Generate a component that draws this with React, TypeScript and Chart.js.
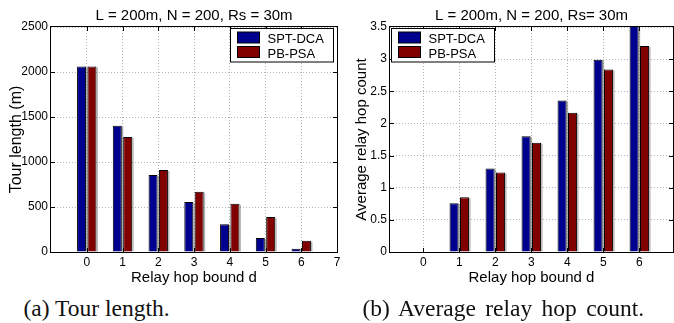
import React, { useEffect, useRef } from 'react';
import { Chart, registerables } from 'chart.js';

Chart.register(...registerables);

// ---------- data ----------
const categories = [0, 1, 2, 3, 4, 5, 6];
const seriesLabels = ['SPT-DCA', 'PB-PSA'];
const tourSptDca = [2062, 1403, 856, 556, 307, 156, 37];
const tourPbPsa = [2062, 1278, 911, 670, 537, 389, 126];
const hopSptDca = [0, 0.757, 1.297, 1.8, 2.356, 2.99, 3.6];
const hopPbPsa = [0, 0.85, 1.235, 1.7, 2.167, 2.84, 3.205];
const tourYTicks = [0, 500, 1000, 1500, 2000, 2500];
const hopYTicks = [0, 0.5, 1, 1.5, 2, 2.5, 3, 3.5];
const tourXTicks = [0, 1, 2, 3, 4, 5, 6, 7];
const hopXTicks = [0, 1, 2, 3, 4, 5, 6];
const chartTitles = ['L = 200m, N = 200, Rs = 30m', 'L = 200m, N = 200, Rs= 30m'];
const yTitles = ['Tour length (m)', 'Average relay hop count'];
const xTitle = 'Relay hop bound d';
const captions = ['(a) Tour length.', '(b) Average relay hop count.'];

const seriesColors = ['rgb(0,0,143)', 'rgb(128,0,0)'];
const SANS = "'Liberation Sans', Arial, Helvetica, sans-serif";
const SERIF = "'Liberation Serif', 'Times New Roman', serif";
const GRID = '#b4b4b4';

const decoPlugin = {
  id: 'matlabDeco',
  beforeDatasetsDraw(chart: any) {
    const ctx = chart.ctx;
    ctx.save();
    ctx.fillStyle = 'rgba(110,110,110,0.5)';
    chart.data.datasets.forEach((_ds: any, i: number) => {
      const meta = chart.getDatasetMeta(i);
      meta.data.forEach((bar: any) => {
        const p = bar.getProps(['x', 'y', 'base', 'width'], true);
        const top = Math.max(Math.min(p.y, p.base), chart.chartArea.top);
        const h = Math.abs(p.base - top);
        if (h < 1) return;
        ctx.fillRect(p.x + p.width / 2, top + 1, 1.5, h - 1);
      });
    });
    ctx.restore();
  },
  afterDatasetsDraw(chart: any) {
    const { ctx, chartArea } = chart;
    const { left, right, top, bottom } = chartArea;
    const xs = chart.scales.x;
    const ys = chart.scales.y;
    ctx.save();
    ctx.strokeStyle = '#000';
    ctx.lineWidth = 1;
    ctx.beginPath();
    const tl = 4;
    xs.ticks.forEach((t: any) => {
      const px = Math.round(xs.getPixelForValue(t.value)) + 0.5;
      if (px <= left + 1 || px >= right - 1) return;
      ctx.moveTo(px, bottom);
      ctx.lineTo(px, bottom - tl);
      ctx.moveTo(px, top);
      ctx.lineTo(px, top + tl);
    });
    ys.ticks.forEach((t: any) => {
      const py = Math.round(ys.getPixelForValue(t.value)) + 0.5;
      if (py <= top + 1 || py >= bottom - 1) return;
      ctx.moveTo(left, py);
      ctx.lineTo(left + tl, py);
      ctx.moveTo(right, py);
      ctx.lineTo(right - tl, py);
    });
    ctx.stroke();
    ctx.strokeRect(Math.round(left) - 0.5, Math.round(top) - 0.5, Math.round(right - left) + 1, Math.round(bottom - top) + 1);
    ctx.restore();
  },
  afterDraw(chart: any, _args: any, opts: any) {
    const { ctx, chartArea } = chart;
    ctx.save();
    // title
    ctx.fillStyle = '#000';
    ctx.font = `15px ${SANS}`;
    ctx.textAlign = 'center';
    ctx.textBaseline = 'alphabetic';
    ctx.fillText(opts.title, (chartArea.left + chartArea.right) / 2, 19.5);
    // legend
    const w = 103;
    const h = 33.5;
    const x = opts.legendSide === 'right' ? Math.round(chartArea.right - 4 - w) + 0.5 : Math.round(chartArea.left + 1) + 0.5;
    const y = Math.round(chartArea.top + 1) + 0.5;
    ctx.fillStyle = '#fff';
    ctx.fillRect(x, y, w, h);
    ctx.strokeStyle = '#000';
    ctx.lineWidth = 1;
    ctx.strokeRect(x, y, w, h);
    ctx.font = `13px ${SANS}`;
    ctx.textAlign = 'left';
    chart.data.datasets.forEach((ds: any, i: number) => {
      const sy = y + 3.5 + i * 14.5;
      ctx.fillStyle = ds.backgroundColor;
      ctx.fillRect(x + 7, sy, 22, 11);
      ctx.strokeRect(x + 7, sy, 22, 11);
      ctx.fillStyle = '#000';
      ctx.fillText(ds.label, x + 37, sy + 11);
    });
    ctx.restore();
  },
};

function makeConfig(p: {
  spt: number[];
  pb: number[];
  yTicks: number[];
  xTicks: number[];
  xMin: number;
  xMax: number;
  yMax: number;
  yTitle: string;
  yTitleSize: number;
  yTitlePad: number;
  yAxisWidth: number;
  title: string;
  legendSide: string;
  padRight: number;
  canvasH: number;
}) {
  const series = [p.spt, p.pb];
  return {
    type: 'bar',
    data: {
      datasets: series.map((vals, s) => ({
        label: seriesLabels[s],
        data: categories.map((c, i) => ({ x: c, y: vals[i] })),
        backgroundColor: seriesColors[s],
        borderColor: '#000',
        borderWidth: 1,
        categoryPercentage: 0.58,
        barPercentage: 0.87,
      })),
    },
    options: {
      responsive: false,
      maintainAspectRatio: false,
      animation: false,
      layout: { padding: { top: 27, right: p.padRight, bottom: 0, left: 0 } },
      plugins: {
        legend: { display: false },
        title: { display: false },
        tooltip: { enabled: false },
        matlabDeco: { title: p.title, legendSide: p.legendSide },
      },
      scales: {
        x: {
          type: 'linear',
          min: p.xMin,
          max: p.xMax,
          offset: false,
          afterBuildTicks: (s: any) => {
            s.ticks = p.xTicks.map((v) => ({ value: v }));
          },
          afterFit: (s: any) => {
            s.height = p.canvasH - 252;
            s.paddingLeft = 0;
            s.paddingRight = 0;
            s.paddingTop = 0;
            s.paddingBottom = 0;
          },
          grid: { color: GRID, lineWidth: 1, drawTicks: false, offset: false },
          border: { display: false, dash: [1, 2] },
          ticks: {
            color: '#000',
            font: { family: SANS, size: 12 },
            padding: 3,
            maxRotation: 0,
            autoSkip: false,
            callback: (v: any) => String(v),
          },
          title: {
            display: true,
            text: xTitle,
            color: '#000',
            font: { family: SANS, size: 15 },
            padding: { top: 0, bottom: 5.5 },
          },
        },
        y: {
          type: 'linear',
          min: 0,
          max: p.yMax,
          afterBuildTicks: (s: any) => {
            s.ticks = p.yTicks.map((v) => ({ value: v }));
          },
          afterFit: (s: any) => {
            s.width = p.yAxisWidth;
            s.paddingLeft = 0;
            s.paddingRight = 0;
            s.paddingTop = 0;
            s.paddingBottom = 0;
          },
          grid: { color: GRID, lineWidth: 1, drawTicks: false },
          border: { display: false, dash: [1, 2] },
          ticks: {
            color: '#000',
            font: { family: SANS, size: 12 },
            padding: 3,
            autoSkip: false,
            callback: (v: any) => String(v),
          },
          title: {
            display: true,
            text: p.yTitle,
            color: '#000',
            font: { family: SANS, size: p.yTitleSize },
            padding: { top: p.yTitlePad, bottom: 0 },
          },
        },
      },
    },
    plugins: [decoPlugin],
  };
}

function ChartPanel({ config, left, width, height }: { config: any; left: number; width: number; height: number }) {
  const ref = useRef<HTMLCanvasElement | null>(null);
  useEffect(() => {
    if (!ref.current) return;
    const chart = new Chart(ref.current, config);
    return () => chart.destroy();
  }, [config]);
  return (
    <canvas
      ref={ref}
      width={width}
      height={height}
      style={{ position: 'absolute', left, top: 0, width, height }}
    />
  );
}

const CANVAS_H = 292;

const leftConfig = makeConfig({
  spt: tourSptDca,
  pb: tourPbPsa,
  yTicks: tourYTicks,
  xTicks: tourXTicks,
  xMin: -1,
  xMax: 7,
  yMax: 2500,
  yTitle: yTitles[0],
  yTitleSize: 16,
  yTitlePad: 7,
  yAxisWidth: 51,
  title: chartTitles[0],
  legendSide: 'right',
  padRight: 3,
  canvasH: CANVAS_H,
});

const rightConfig = makeConfig({
  spt: hopSptDca,
  pb: hopPbPsa,
  yTicks: hopYTicks,
  xTicks: hopXTicks,
  xMin: -0.925,
  xMax: 6.935,
  yMax: 3.5,
  yTitle: yTitles[1],
  yTitleSize: 15,
  yTitlePad: 16,
  yAxisWidth: 53,
  title: chartTitles[1],
  legendSide: 'left',
  padRight: 1,
  canvasH: CANVAS_H,
});

export default function App() {
  const capStyle: React.CSSProperties = {
    position: 'absolute',
    top: 297,
    fontFamily: SERIF,
    fontSize: 23.5,
    lineHeight: '22px',
    whiteSpace: 'nowrap',
    color: '#111',
  };
  return (
    <div
      style={{
        position: 'absolute',
        left: 0,
        top: 0,
        width: 674,
        height: 323,
        background: '#fff',
        overflow: 'hidden',
      }}
    >
      <ChartPanel config={leftConfig} left={0} width={340} height={CANVAS_H} />
      <ChartPanel config={rightConfig} left={337} width={337} height={CANVAS_H} />
      <div style={{ ...capStyle, left: 23.5 }}>{captions[0]}</div>
      <div style={{ ...capStyle, left: 362.5, wordSpacing: '3.5px' }}>{captions[1]}</div>
    </div>
  );
}
